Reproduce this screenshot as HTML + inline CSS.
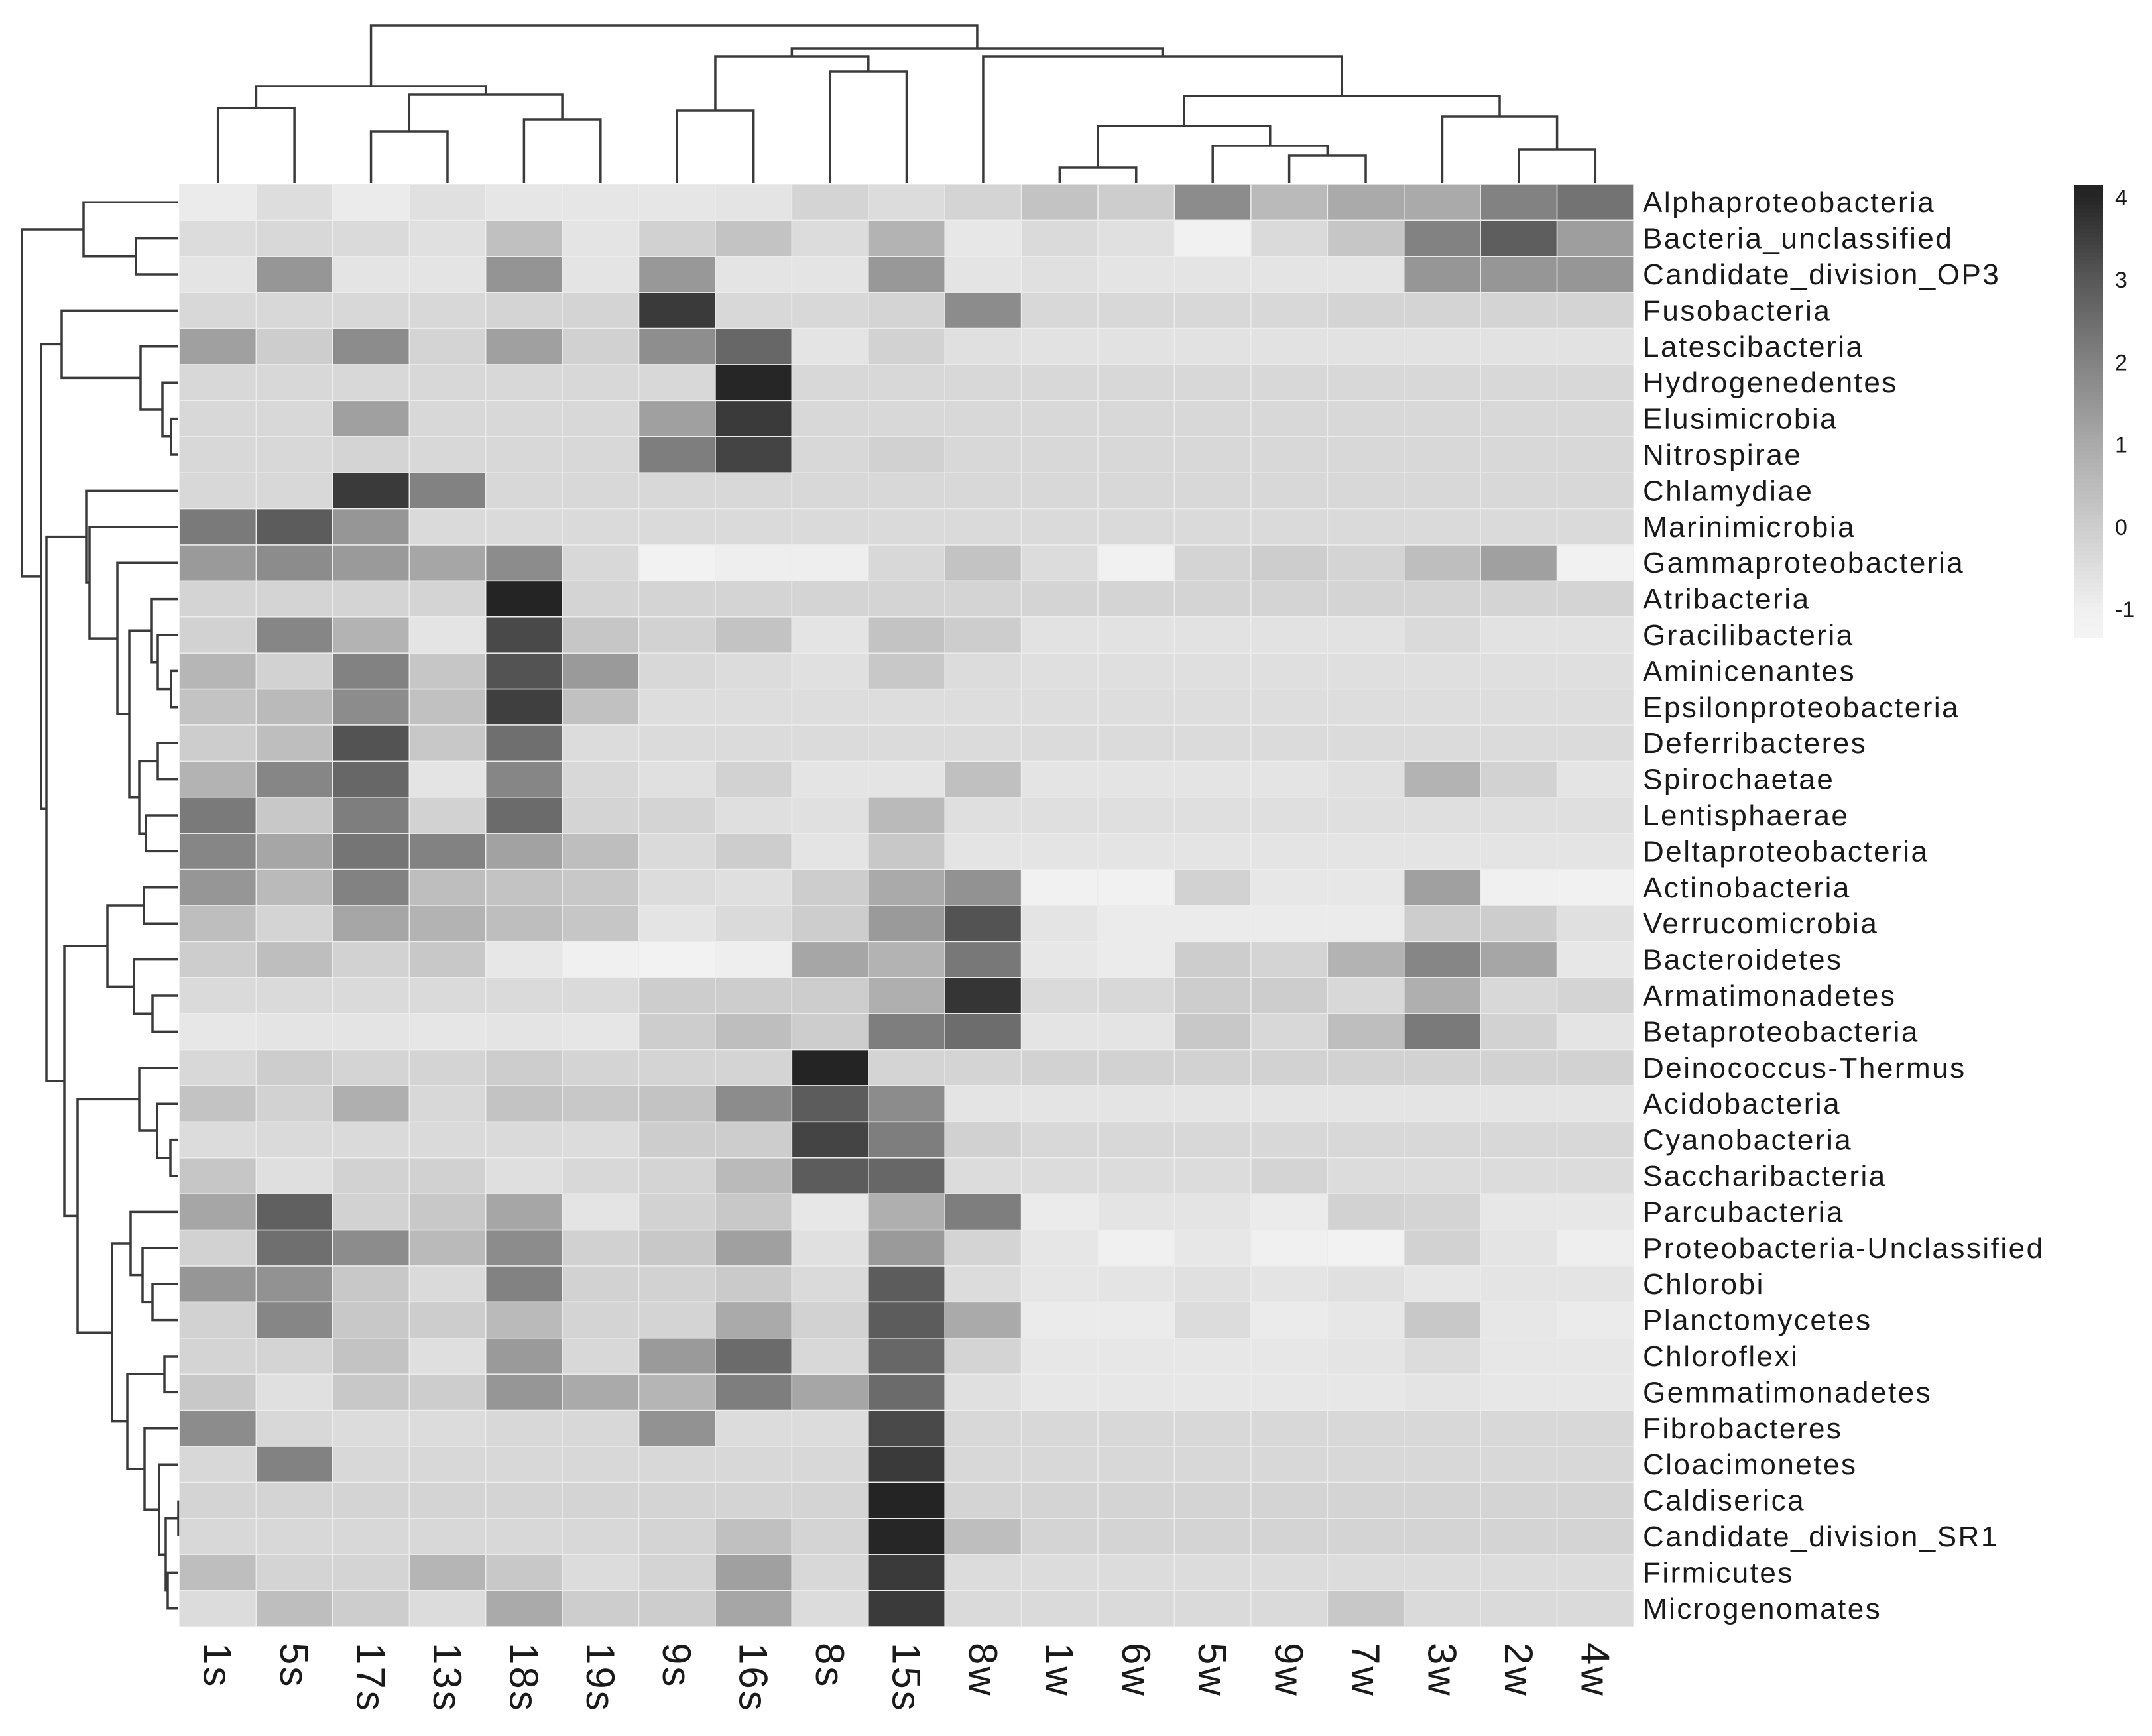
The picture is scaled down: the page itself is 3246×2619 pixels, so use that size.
<!DOCTYPE html>
<html><head><meta charset="utf-8">
<style>
html,body{margin:0;padding:0;background:#fff;}
svg{display:block;font-family:"Liberation Sans",Arial,sans-serif;}
</style></head>
<body>
<svg id="chart" xmlns="http://www.w3.org/2000/svg" width="3246" height="2619" viewBox="0 0 3246 2619">
<rect x="0" y="0" width="3246" height="2619" fill="#fff"/>
<g id="dend-col"></g>
<g id="dend-row"></g>
<g id="cells"></g>
<g id="rowlabels"></g>
<g id="collabels"></g>
<g id="legend"></g>
</svg>
<script>
const columns = ["1s","5s","17s","13s","18s","19s","9s","16s","8s","15s","8w","1w","6w","5w","9w","7w","3w","2w","4w"];
const rows = ["Alphaproteobacteria","Bacteria_unclassified","Candidate_division_OP3","Fusobacteria","Latescibacteria","Hydrogenedentes","Elusimicrobia","Nitrospirae","Chlamydiae","Marinimicrobia","Gammaproteobacteria","Atribacteria","Gracilibacteria","Aminicenantes","Epsilonproteobacteria","Deferribacteres","Spirochaetae","Lentisphaerae","Deltaproteobacteria","Actinobacteria","Verrucomicrobia","Bacteroidetes","Armatimonadetes","Betaproteobacteria","Deinococcus-Thermus","Acidobacteria","Cyanobacteria","Saccharibacteria","Parcubacteria","Proteobacteria-Unclassified","Chlorobi","Planctomycetes","Chloroflexi","Gemmatimonadetes","Fibrobacteres","Cloacimonetes","Caldiserica","Candidate_division_SR1","Firmicutes","Microgenomates"];
const values = [
[-0.85,-0.45,-0.85,-0.55,-0.7,-0.7,-0.7,-0.65,-0.2,-0.43,-0.2,0.3,0,1.75,0.55,1,1,2,2.35],
[-0.43,-0.3,-0.37,-0.55,0.37,-0.65,-0.1,0.3,-0.43,0.75,-0.75,-0.37,-0.55,-1.05,-0.37,0.2,2,2.85,1.3],
[-0.65,1.5,-0.65,-0.65,1.55,-0.65,1.45,-0.65,-0.65,1.45,-0.65,-0.55,-0.65,-0.65,-0.65,-0.65,1.5,1.5,1.5],
[-0.3,-0.3,-0.3,-0.3,-0.2,-0.2,3.6,-0.3,-0.3,-0.2,1.75,-0.3,-0.3,-0.3,-0.3,-0.2,-0.2,-0.2,-0.2],
[1.25,0,1.75,-0.2,1.25,-0.1,1.7,2.65,-0.65,-0.15,-0.55,-0.6,-0.6,-0.6,-0.6,-0.6,-0.6,-0.6,-0.6],
[-0.3,-0.3,-0.3,-0.3,-0.3,-0.3,-0.3,4,-0.3,-0.3,-0.3,-0.3,-0.3,-0.3,-0.3,-0.3,-0.3,-0.3,-0.3],
[-0.3,-0.3,1.25,-0.3,-0.3,-0.3,1.25,3.6,-0.3,-0.3,-0.3,-0.3,-0.3,-0.3,-0.3,-0.3,-0.3,-0.3,-0.3],
[-0.3,-0.3,-0.2,-0.3,-0.3,-0.3,2.1,3.4,-0.3,-0.1,-0.3,-0.3,-0.3,-0.3,-0.3,-0.3,-0.3,-0.3,-0.3],
[-0.3,-0.3,3.6,2,-0.3,-0.3,-0.3,-0.3,-0.3,-0.3,-0.3,-0.3,-0.3,-0.3,-0.3,-0.3,-0.3,-0.3,-0.3],
[2.2,2.9,1.5,-0.37,-0.37,-0.37,-0.37,-0.37,-0.37,-0.37,-0.37,-0.37,-0.37,-0.37,-0.37,-0.37,-0.37,-0.37,-0.37],
[1.4,1.75,1.4,1.1,1.75,-0.3,-1.2,-0.95,-0.95,-0.3,0.3,-0.43,-1.05,-0.2,0,-0.2,0.43,1.25,-1.05],
[-0.2,-0.2,-0.2,-0.2,4.1,-0.2,-0.2,-0.2,-0.2,-0.2,-0.2,-0.2,-0.2,-0.2,-0.2,-0.2,-0.2,-0.2,-0.2],
[-0.15,1.9,0.75,-0.65,3.3,0.2,-0.15,0.3,-0.65,0.3,0,-0.6,-0.6,-0.6,-0.6,-0.6,-0.37,-0.6,-0.6],
[0.65,-0.15,2,0.2,3.1,1.4,-0.3,-0.43,-0.55,0.15,-0.43,-0.5,-0.5,-0.5,-0.5,-0.5,-0.5,-0.5,-0.5],
[0.3,0.55,1.75,0.35,3.5,0.35,-0.45,-0.45,-0.45,-0.45,-0.45,-0.45,-0.45,-0.45,-0.45,-0.45,-0.45,-0.45,-0.45],
[0,0.43,3.1,0.15,2.45,-0.43,-0.4,-0.4,-0.4,-0.4,-0.4,-0.4,-0.4,-0.4,-0.4,-0.4,-0.4,-0.4,-0.4],
[0.75,1.9,2.65,-0.65,1.9,-0.3,-0.55,-0.15,-0.65,-0.65,0.37,-0.65,-0.65,-0.65,-0.65,-0.55,0.75,-0.15,-0.65],
[2.2,0.15,2.1,-0.15,2.55,-0.2,-0.2,-0.5,-0.55,0.55,-0.5,-0.5,-0.5,-0.5,-0.5,-0.5,-0.5,-0.5,-0.5],
[1.9,1.1,2.3,2,1.2,0.43,-0.37,0,-0.65,0.15,-0.65,-0.65,-0.65,-0.65,-0.65,-0.65,-0.65,-0.65,-0.65],
[1.5,0.55,2,0.43,0.3,0.15,-0.43,-0.5,0,1,1.6,-1.1,-1.1,-0.15,-0.75,-0.75,1.25,-1,-1.1],
[0.43,-0.2,1.1,0.75,0.43,0.2,-0.65,-0.37,0,1.4,3.1,-0.65,-0.85,-0.85,-0.85,-0.85,0,0,-0.55],
[0,0.43,-0.15,0.15,-0.75,-1,-1.2,-0.95,1.1,0.75,2.25,-0.75,-0.85,0,-0.2,0.75,1.9,1.1,-0.75],
[-0.37,-0.37,-0.37,-0.37,-0.37,-0.37,0,0,0,0.85,3.7,-0.37,-0.3,0,0,-0.3,0.85,-0.3,-0.2],
[-0.75,-0.65,-0.65,-0.7,-0.65,-0.7,0,0.43,0,2.1,2.5,-0.65,-0.65,0.15,-0.3,0.43,2.2,-0.15,-0.65],
[-0.3,0,-0.2,-0.2,0,-0.2,-0.2,-0.2,4.1,-0.2,-0.2,-0.15,-0.15,-0.15,-0.15,-0.15,-0.15,-0.15,-0.15],
[0.3,-0.15,0.85,-0.3,0.3,0.15,0.3,1.75,2.9,1.75,-0.65,-0.65,-0.65,-0.65,-0.65,-0.65,-0.65,-0.65,-0.65],
[-0.43,-0.37,-0.37,-0.37,-0.37,-0.43,0,0,3.4,2.1,-0.1,-0.3,-0.3,-0.3,-0.3,-0.3,-0.3,-0.3,-0.3],
[0.2,-0.5,-0.15,-0.1,-0.5,-0.3,-0.2,0.55,2.9,2.65,-0.43,-0.43,-0.43,-0.43,-0.2,-0.43,-0.43,-0.43,-0.43],
[1.1,2.8,-0.15,0.15,1.1,-0.65,-0.15,0.15,-0.75,0.85,2.1,-0.85,-0.65,-0.65,-0.85,-0.15,-0.2,-0.75,-0.75],
[-0.15,2.45,1.75,0.55,1.75,-0.1,0.15,1.25,-0.55,1.4,-0.2,-0.7,-1,-0.75,-1,-1.2,-0.15,-0.65,-0.95],
[1.5,1.6,0.15,-0.37,2,-0.15,-0.15,0.1,-0.37,2.9,-0.43,-0.7,-0.65,-0.55,-0.65,-0.55,-0.7,-0.65,-0.65],
[-0.15,1.9,0.15,0,0.55,-0.2,-0.2,1,-0.15,2.9,1,-0.85,-0.85,-0.43,-0.85,-0.75,0.15,-0.75,-0.85],
[-0.2,-0.2,0.3,-0.5,1.4,-0.3,1.4,2.55,-0.3,2.65,-0.2,-0.75,-0.75,-0.75,-0.75,-0.65,-0.43,-0.75,-0.75],
[0.15,-0.55,0.15,0,1.5,1,0.7,2.1,1.1,2.55,-0.55,-0.75,-0.75,-0.75,-0.75,-0.75,-0.65,-0.75,-0.75],
[1.75,-0.3,-0.43,-0.43,-0.3,-0.3,1.6,-0.43,-0.43,3.3,-0.3,-0.3,-0.3,-0.3,-0.3,-0.3,-0.3,-0.3,-0.3],
[-0.3,2,-0.3,-0.3,-0.3,-0.3,-0.3,-0.3,-0.3,3.6,-0.3,-0.3,-0.3,-0.3,-0.3,-0.3,-0.3,-0.3,-0.3],
[-0.2,-0.2,-0.2,-0.2,-0.2,-0.2,-0.2,-0.2,-0.2,4.1,-0.2,-0.2,-0.2,-0.2,-0.2,-0.2,-0.2,-0.2,-0.2],
[-0.3,-0.3,-0.3,-0.3,-0.3,-0.3,-0.2,0.37,-0.2,4,0.43,-0.2,-0.2,-0.2,-0.2,-0.2,-0.2,-0.2,-0.2],
[0.43,-0.2,-0.2,0.7,0.15,-0.43,-0.2,1.25,-0.3,3.6,-0.43,-0.43,-0.43,-0.43,-0.43,-0.43,-0.43,-0.43,-0.43],
[-0.43,0.43,0,-0.43,1,0,0,1.1,-0.43,3.6,-0.37,-0.37,-0.37,-0.37,-0.37,0.15,-0.37,-0.37,-0.37]
];
const legendTicks = [4,3,2,1,0,-1];
// dendrogram merges: [childA, childB, mergeHeight]
const colMerges = [[0,1,163],[2,3,198],[4,5,180],[20,21,143],[19,22,130],[6,7,167],[8,9,108],[24,25,85],[11,12,253],[14,15,235],[13,28,220],[27,29,190],[17,18,226],[16,31,176],[30,32,145],[10,33,85],[26,34,73],[23,35,38]];
const rowMerges = [[1,2,205],[0,40,126],[6,7,258],[5,42,245],[4,43,212],[3,44,93],[13,14,258],[12,46,238],[11,47,229],[15,16,238],[17,18,220],[49,50,210],[48,51,195],[10,52,177],[9,53,135],[8,54,130],[19,20,217],[22,23,230],[21,57,202],[56,58,162],[26,27,257],[25,60,237],[24,61,210],[30,31,230],[29,63,215],[28,64,197],[32,33,248],[36,37,269],[38,39,253],[67,68,250],[35,69,240],[34,70,218],[66,71,192],[65,72,169],[62,73,117],[59,74,97],[55,75,70],[45,76,62],[41,77,33]];

const NS="http://www.w3.org/2000/svg";
const X0=271, X1=2464, Y0=278, Y1=2454;
const cw=(X1-X0)/columns.length, rh=(Y1-Y0)/rows.length;
const xCol=i=>X0+i*cw, yRow=i=>Y0+i*rh;
const gv=[-1.5,-1,0,1,2,3,4,4.5], gg=[246,240,205,170,130,88,38,30];
function grayOf(v){
  if(v<=gv[0]) return gg[0];
  for(let i=1;i<gv.length;i++){ if(v<=gv[i]){const t=(v-gv[i-1])/(gv[i]-gv[i-1]);return Math.round(gg[i-1]+t*(gg[i]-gg[i-1]));} }
  return gg[gg.length-1];
}
const col=v=>{const g=grayOf(v);return `rgb(${g},${g},${g})`;};
function mk(tag,attrs,parent){const e=document.createElementNS(NS,tag);for(const k in attrs)e.setAttribute(k,attrs[k]);parent.appendChild(e);return e;}

const cg=document.getElementById('cells');
values.forEach((row,r)=>row.forEach((v,c)=>{
  const e=mk('rect',{x:xCol(c),y:yRow(r),width:cw,height:rh,fill:col(v),stroke:'#ececec','stroke-width':1.5},cg);
  
  
}));
const rl=document.getElementById('rowlabels');
rows.forEach((n,r)=>{
  const t=mk('text',{x:2478,y:yRow(r)+rh/2+15,'font-size':44,'letter-spacing':2.5,fill:'#1a1a1a'},rl);
  t.textContent=n;
  
  
});
const cl=document.getElementById('collabels');
columns.forEach((n,c)=>{
  const cx=xCol(c)+cw/2;
  const t=mk('text',{x:0,y:0,'font-size':60,'letter-spacing':3,fill:'#1a1a1a',transform:`translate(${cx-21},2478) rotate(90)`},cl);
  t.textContent=n;
  
  
});
function drawDend(gid,nLeaf,merges,leafPos,leafBase,horizontal){
  const g=document.getElementById(gid);
  const pos=[],h=[];
  for(let i=0;i<nLeaf;i++){pos.push(leafPos(i));h.push(leafBase);}
  merges.forEach(([a,b,hh])=>{
    const pa=pos[a],pb=pos[b];let d;
    if(horizontal){ d=`M${pa},${h[a]}V${hh}H${pb}V${h[b]}`; }
    else { d=`M${h[a]},${pa}H${hh}V${pb}H${h[b]}`; }
    const p=mk('path',{d:d,fill:'none',stroke:'#3a3a3a','stroke-width':3.5},g);
    
    
    pos.push((pa+pb)/2);h.push(hh);
  });
}
drawDend('dend-col',columns.length,colMerges,i=>xCol(i)+cw/2,Y0-2,true);
drawDend('dend-row',rows.length,rowMerges,i=>yRow(i)+rh/2,X0-2,false);
const lg=document.getElementById('legend');
const LT=279,LB=963,Y4=298,PU=124.2,yOfV=v=>Y4+(4-v)*PU;
for(let y=LT;y<LB;y+=6){
  const v=4-(y+3-Y4)/PU;
  const s=mk('rect',{x:3128,y:y,width:44,height:Math.min(6.5,LB-y),fill:col(v)},lg);
  
  
}
legendTicks.forEach(v=>{
  const t=mk('text',{x:3190,y:yOfV(v)+12,'font-size':34,fill:'#1a1a1a'},lg);
  t.textContent=String(v);
  
  
});
</script>
</body></html>
